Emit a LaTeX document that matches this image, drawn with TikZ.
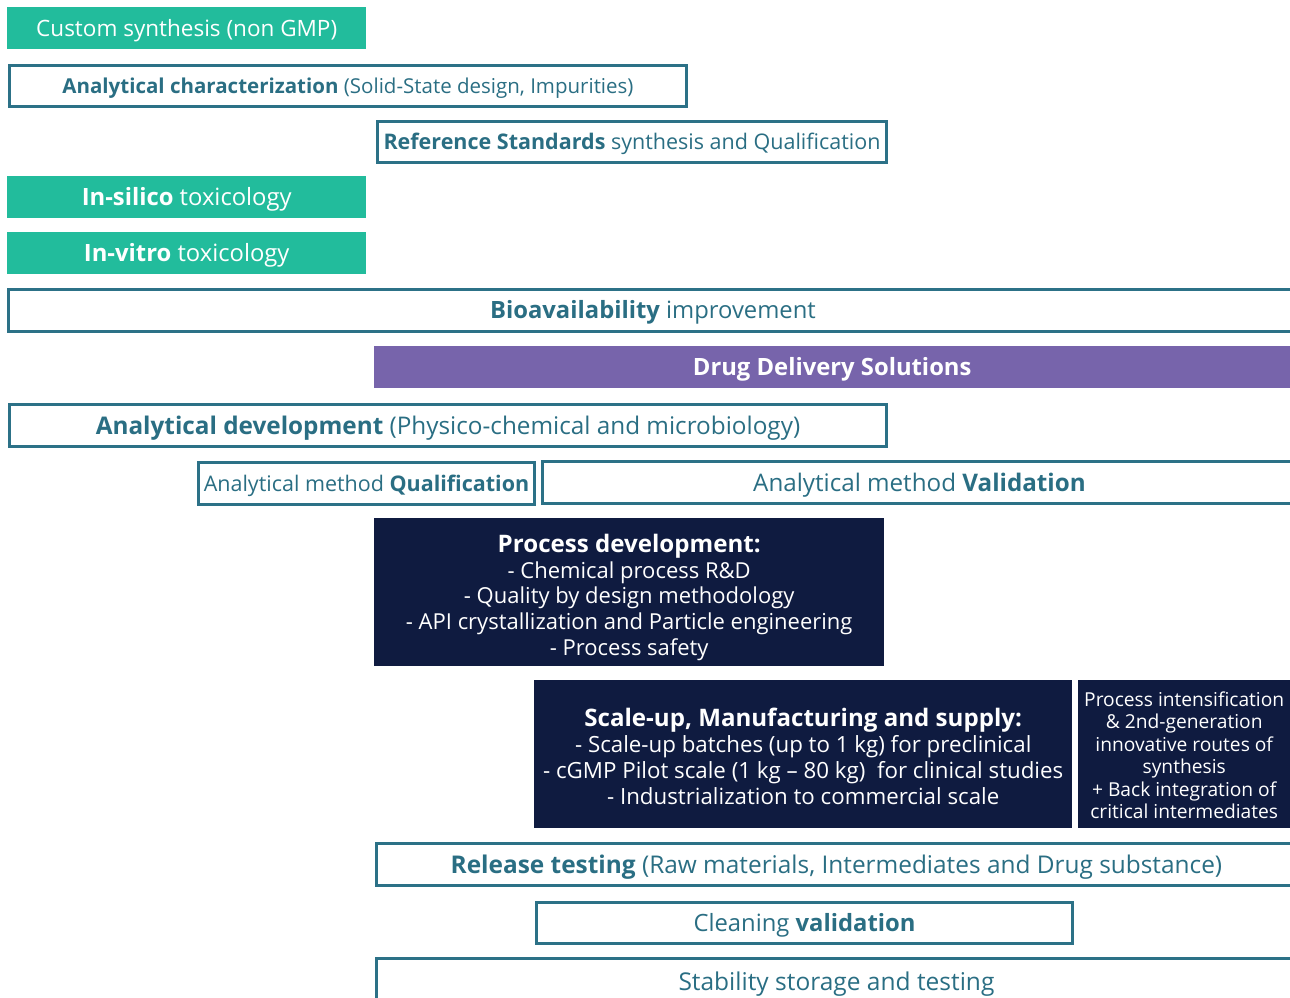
\documentclass[tikz,border=0pt]{standalone}
\usepackage{fontspec}
\setmainfont{Open Sans}
\usetikzlibrary{calc}
\definecolor{tealfill}{HTML}{22BC9C}
\definecolor{edgeblue}{HTML}{2C7187}
\definecolor{txtblue}{HTML}{2A6E83}
\definecolor{purplefill}{HTML}{7764AB}
\definecolor{navyfill}{HTML}{0F1B40}
\newcommand{\fs}[2]{\fontsize{#1}{#2}\selectfont}
\tikzset{
  box/.style={anchor=north west, inner sep=0pt, align=center},
  sz/.code={\pgfmathsetmacro\capheight{0.714*#1}\tikzset{font=\fs{#1}{#1}, text height=\capheight pt, text depth=0pt}},
  greenbox/.style={box, fill=tealfill, text=white},
  outbox/.style={box, draw=edgeblue, line width=2.5pt, text=txtblue},
  openbox/.style={box, text=txtblue},
  openedge/.style={draw=edgeblue, line width=2.5pt},
  purplebox/.style={box, fill=purplefill, text=white},
  navybox/.style={anchor=north west, inner sep=0pt, fill=navyfill},
  lbl/.style={inner sep=0pt, align=center, text=white},
}
\begin{document}
\begin{tikzpicture}[x=1pt,y=-1pt]
\useasboundingbox (0,0) rectangle (1290,998);
\coordinate (R) at (1290,0);

\node[greenbox, minimum width=359pt, minimum height=42pt, sz=22.5] (custom) at (7,7) {Custom synthesis (non GMP)};

\node[outbox, minimum width=677pt, minimum height=41pt, sz=20.5] (anchar) at (8.25,64.25) {\textbf{Analytical characterization} (Solid-State design, Impurities)};

\node[outbox, minimum width=509pt, minimum height=41pt, sz=21.5] (refstd) at (376.25,120.25) {\textbf{Reference Standards} synthesis and Qualification};

\node[greenbox, minimum width=359pt, minimum height=42pt, sz=23.8] (insilico) at (7,176) {\textbf{In-silico} toxicology};

\node[greenbox, minimum width=359pt, minimum height=42pt, sz=23.8] (invitro) at (7,232) {\textbf{In-vitro} toxicology};

\node[openbox, minimum width=1289pt, minimum height=42pt, sz=23.8] (bio) at (8.25,289.25) {\textbf{Bioavailability} improvement};
\draw[openedge] (bio.north west -| R) -- (bio.north west) -- (bio.south west) -- (bio.south west -| R);

\node[purplebox, minimum width=916pt, minimum height=42pt, sz=23.8] (dds) at (374,346) {\textbf{Drug Delivery Solutions}};

\node[outbox, minimum width=877pt, minimum height=42pt, sz=24.3] (andev) at (8.25,403.25) {\textbf{Analytical development} (Physico-chemical and microbiology)};

\node[outbox, minimum width=336pt, minimum height=42pt, sz=21.5] (amq) at (197.25,461.25) {Analytical method \textbf{Qualification}};

\node[openbox, minimum width=754pt, minimum height=42pt, sz=24.2] (amv) at (542.25,461.25) {Analytical method \textbf{Validation}};
\draw[openedge] (amv.north west -| R) -- (amv.north west) -- (amv.south west) -- (amv.south west -| R);

\node[navybox, minimum width=510pt, minimum height=148pt] (procdev) at (374,518) {};
\node[lbl, font=\fs{22}{25.7}] (procdevtext) at ([yshift=-5pt]procdev.center) {{\fs{24.1}{25.7}\textbf{Process development:}}\\- Chemical process R\&D\\- Quality by design methodology\\- API crystallization and Particle engineering\\- Process safety};

\node[navybox, minimum width=538pt, minimum height=148pt] (scaleup) at (534,680) {};
\node[lbl, font=\fs{22.3}{26}] (scaleuptext) at ([yshift=-2pt]scaleup.center) {{\fs{24.1}{26}\textbf{Scale-up, Manufacturing and supply:}}\\- Scale-up batches (up to 1 kg) for preclinical\\- cGMP Pilot scale (1 kg -- 80 kg)~~for clinical studies\\- Industrialization to commercial scale};

\node[navybox, minimum width=212pt, minimum height=148pt] (intens) at (1078,680) {};
\node[lbl, font=\fs{19.2}{22.4}] (intenstext) at ([yshift=-1pt]intens.center) {Process intensification\\\& 2nd-generation\\innovative routes of\\synthesis\\+ Back integration of\\critical intermediates};

\node[openbox, minimum width=920pt, minimum height=42pt, sz=24.4] (release) at (376.25,843.25) {\textbf{Release testing} (Raw materials, Intermediates and Drug substance)};
\draw[openedge] (release.north west -| R) -- (release.north west) -- (release.south west) -- (release.south west -| R);

\node[outbox, minimum width=536pt, minimum height=41pt, sz=23.8] (clean) at (535.25,901.25) {Cleaning \textbf{validation}};

\node[openbox, minimum width=920pt, minimum height=46pt, sz=24.5] (stab) at (376.25,958.25) {Stability storage and testing};
\draw[openedge] (stab.north west -| R) -- (stab.north west) -- (stab.west |- 0,998);
\end{tikzpicture}
\end{document}
